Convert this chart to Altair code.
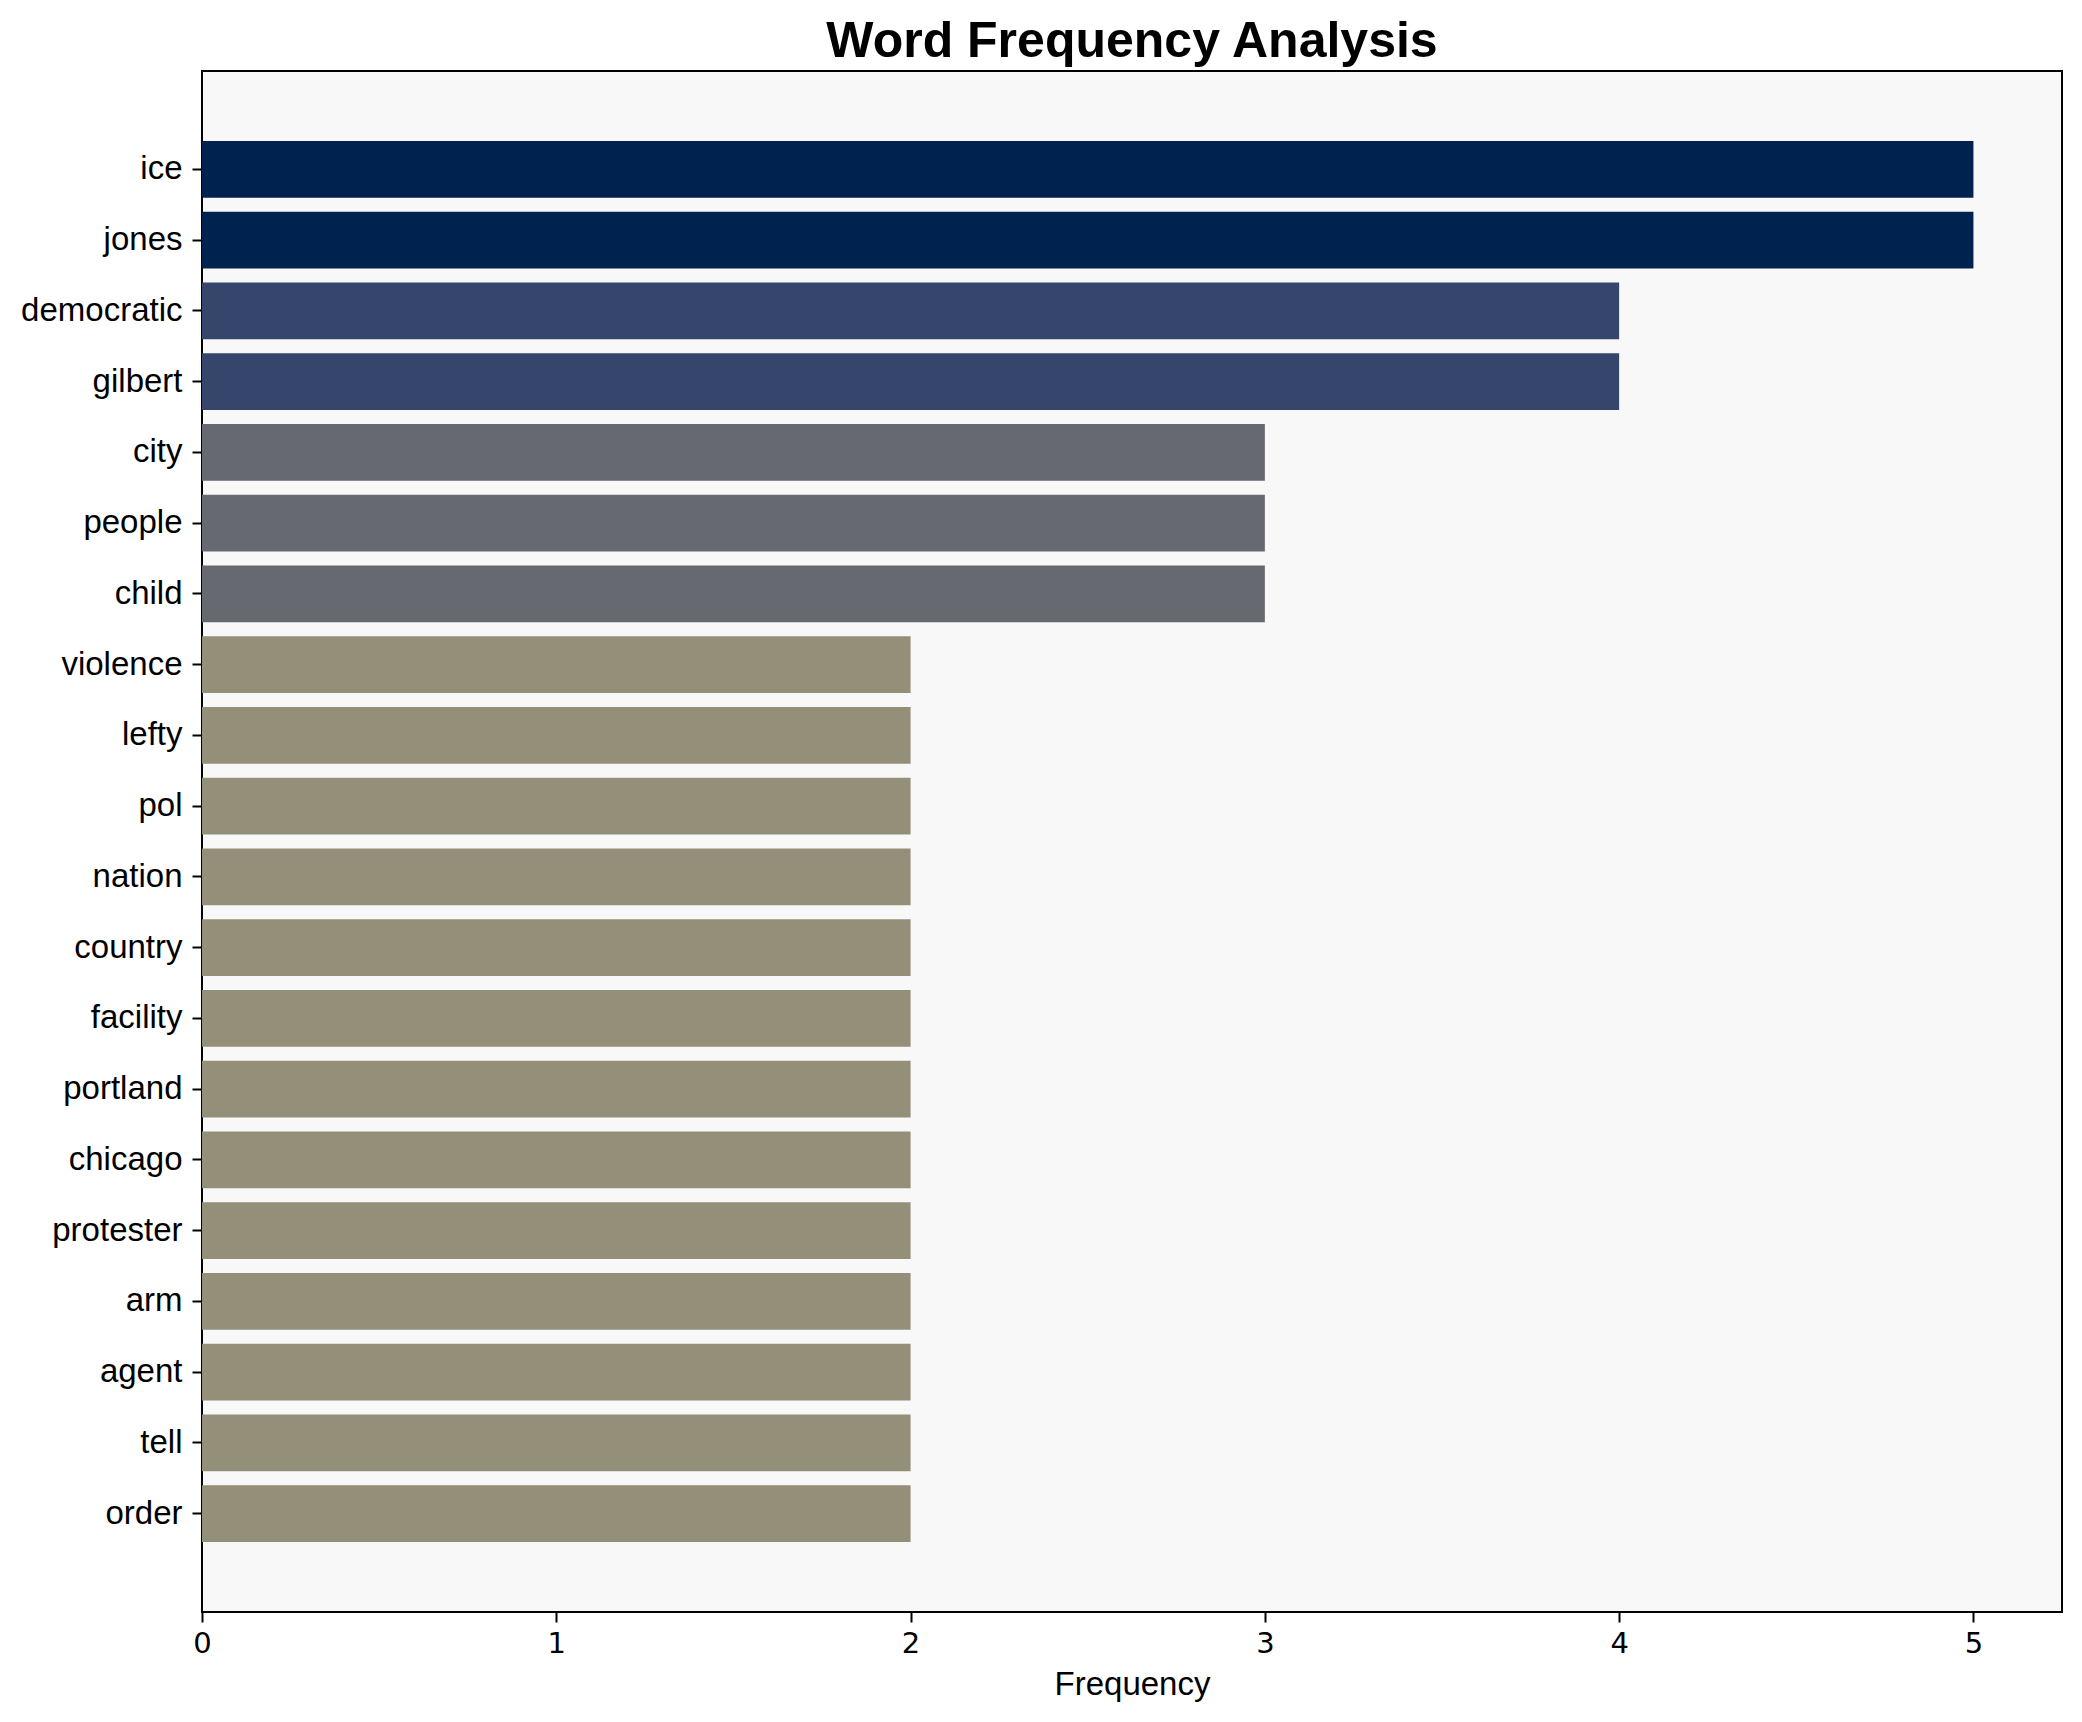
import altair as alt
import pandas as pd

words = ["ice", "jones", "democratic", "gilbert", "city", "people", "child",
         "violence", "lefty", "pol", "nation", "country", "facility", "portland",
         "chicago", "protester", "arm", "agent", "tell", "order"]
freqs = [5, 5, 4, 4, 3, 3, 3, 2, 2, 2, 2, 2, 2, 2, 2, 2, 2, 2, 2, 2]

color_domain = [2, 3, 4, 5]
color_range = ["#948f78", "#666970", "#35456c", "#00224e"]

df = pd.DataFrame({"word": words, "freq": freqs})

FONT = "Liberation Sans"

chart = alt.Chart(df).mark_bar().encode(
    x=alt.X("freq:Q",
            scale=alt.Scale(domain=[0, 5.25], nice=False, zero=True),
            axis=alt.Axis(title="Frequency", values=[0, 1, 2, 3, 4, 5], format="d",
                          grid=False, domain=False, tickColor="black", tickWidth=2,
                          tickSize=10, labelPadding=7, labelFontSize=29,
                          labelFlush=False, labelOverlap=False,
                          labelColor="black", labelFont="DejaVu Sans", titleFont=FONT,
                          titleFontSize=33, titleFontWeight="normal",
                          titleColor="black", titlePadding=10)),
    y=alt.Y("word:N", sort=words,
            scale=alt.Scale(paddingInner=0.2, paddingOuter=0.99),
            axis=alt.Axis(title=None, grid=False, domain=False, tickColor="black",
                          tickWidth=2, tickSize=10, labelPadding=10,
                          labelFontSize=33, labelColor="black", labelFont=FONT)),
    color=alt.Color("freq:O", scale=alt.Scale(domain=color_domain, range=color_range),
                    legend=None),
).properties(
    width=1860,
    height=1541,
    title=alt.TitleParams("Word Frequency Analysis", font=FONT, fontSize=50,
                          fontWeight="bold", color="black", anchor="middle", offset=4),
    autosize=alt.AutoSizeParams(type="none"),
    padding={"left": 194, "top": 63, "right": 12, "bottom": 102},
).configure_view(
    fill="#f8f8f8", stroke="black", strokeWidth=2
)

chart.save("out.html", embed_options={"renderer": "svg", "actions": False})
